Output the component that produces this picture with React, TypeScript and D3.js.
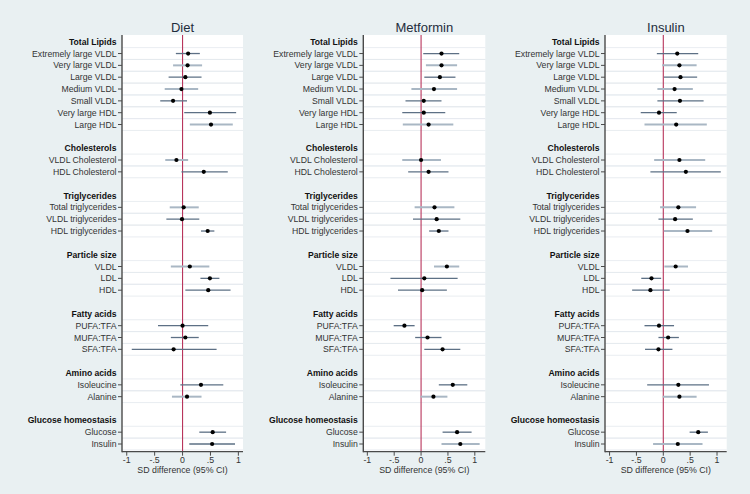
import React from "react";
import * as d3 from "d3";

const panels = ["Diet", "Metformin", "Insulin"];

// row layout: header rows (h) and item rows (i), blanks (b)
const rows: { type: "h" | "i" | "b"; label: string }[] = [
  { type: "h", label: "Total Lipids" },
  { type: "i", label: "Extremely large VLDL" },
  { type: "i", label: "Very large VLDL" },
  { type: "i", label: "Large VLDL" },
  { type: "i", label: "Medium VLDL" },
  { type: "i", label: "Small VLDL" },
  { type: "i", label: "Very large HDL" },
  { type: "i", label: "Large HDL" },
  { type: "b", label: "" },
  { type: "h", label: "Cholesterols" },
  { type: "i", label: "VLDL Cholesterol" },
  { type: "i", label: "HDL Cholesterol" },
  { type: "b", label: "" },
  { type: "h", label: "Triglycerides" },
  { type: "i", label: "Total triglycerides" },
  { type: "i", label: "VLDL triglycerides" },
  { type: "i", label: "HDL triglycerides" },
  { type: "b", label: "" },
  { type: "h", label: "Particle size" },
  { type: "i", label: "VLDL" },
  { type: "i", label: "LDL" },
  { type: "i", label: "HDL" },
  { type: "b", label: "" },
  { type: "h", label: "Fatty acids" },
  { type: "i", label: "PUFA:TFA" },
  { type: "i", label: "MUFA:TFA" },
  { type: "i", label: "SFA:TFA" },
  { type: "b", label: "" },
  { type: "h", label: "Amino acids" },
  { type: "i", label: "Isoleucine" },
  { type: "i", label: "Alanine" },
  { type: "b", label: "" },
  { type: "h", label: "Glucose homeostasis" },
  { type: "i", label: "Glucose" },
  { type: "i", label: "Insulin" },
];

// estimates per item (in order of item rows)
const dietEst = [0.10, 0.09, 0.05, -0.02, -0.17, 0.49, 0.51, -0.11, 0.38, 0.02, -0.01, 0.45, 0.13, 0.49, 0.46, 0.00, 0.05, -0.16, 0.33, 0.08, 0.54, 0.53];
const dietLo = [-0.12, -0.17, -0.25, -0.32, -0.40, 0.03, 0.13, -0.31, -0.02, -0.23, -0.29, 0.33, -0.21, 0.32, 0.05, -0.44, -0.21, -0.91, -0.04, -0.19, 0.30, 0.12];
const dietHi = [0.31, 0.35, 0.34, 0.28, 0.08, 0.96, 0.90, 0.10, 0.81, 0.29, 0.30, 0.57, 0.48, 0.66, 0.86, 0.46, 0.29, 0.61, 0.73, 0.34, 0.78, 0.94];
const dietLight = [0, 1, 0, 1, 0, 0, 1, 1, 0, 1, 0, 0, 1, 0, 0, 0, 0, 0, 0, 1, 0, 0];

const metEst = [0.38, 0.38, 0.35, 0.24, 0.05, 0.05, 0.14, 0.00, 0.14, 0.25, 0.29, 0.33, 0.48, 0.06, 0.02, -0.31, 0.12, 0.40, 0.59, 0.23, 0.67, 0.73];
const metLo = [0.04, 0.09, 0.06, -0.18, -0.29, -0.35, -0.34, -0.35, -0.24, -0.12, -0.15, 0.15, 0.24, -0.57, -0.43, -0.51, -0.11, 0.06, 0.33, -0.01, 0.40, 0.38];
const metHi = [0.71, 0.67, 0.64, 0.67, 0.38, 0.45, 0.60, 0.37, 0.51, 0.62, 0.73, 0.51, 0.71, 0.68, 0.48, -0.12, 0.38, 0.73, 0.86, 0.49, 0.94, 1.09];
const metLight = [0, 1, 0, 1, 0, 0, 1, 1, 0, 1, 0, 0, 1, 0, 0, 0, 0, 0, 0, 1, 0, 1];

const insEst = [0.26, 0.30, 0.32, 0.21, 0.31, -0.08, 0.24, 0.30, 0.42, 0.28, 0.22, 0.45, 0.23, -0.22, -0.24, -0.08, 0.09, -0.09, 0.28, 0.30, 0.65, 0.27];
const insLo = [-0.12, -0.02, 0.01, -0.11, -0.11, -0.42, -0.35, -0.17, -0.24, -0.06, -0.09, 0.01, 0.02, -0.41, -0.58, -0.35, -0.09, -0.34, -0.30, -0.01, 0.49, -0.19];
const insHi = [0.65, 0.62, 0.63, 0.55, 0.75, 0.25, 0.81, 0.78, 1.07, 0.61, 0.55, 0.91, 0.46, -0.04, 0.12, 0.20, 0.29, 0.17, 0.85, 0.62, 0.83, 0.73];
const insLight = [0, 1, 0, 1, 0, 0, 1, 1, 0, 1, 0, 1, 1, 0, 0, 0, 0, 0, 0, 1, 0, 1];

const xTicks = [-1, -0.5, 0, 0.5, 1];
const xTickLabels = ["-1", "-.5", "0", ".5", "1"];
const xTitle = "SD difference (95% CI)";

const panelData = [
  { est: dietEst, lo: dietLo, hi: dietHi, light: dietLight, domain: [-1.085, 1.083], range: [122, 243] },
  { est: metEst, lo: metLo, hi: metHi, light: metLight, domain: [-1.075, 1.195], range: [363.3, 485.3] },
  { est: insEst, lo: insLo, hi: insHi, light: insLight, domain: [-1.085, 1.18], range: [605, 726.7] },
];

const W = 750;
const H = 494;
const TOP = 35;
const BOTTOM = 451.7;
const FONT = "Liberation Sans, Arial, sans-serif";

export default function App() {
  const y = d3.scaleLinear().domain([0, rows.length - 1]).range([41.7, 444]);
  const itemRows = rows.map((r, i) => ({ ...r, idx: i })).filter((r) => r.type === "i");

  return (
    <svg width={W} height={H} style={{ position: "absolute", left: 0, top: 0 }} fontFamily={FONT}>
      <rect x={0} y={0} width={W} height={H} fill="#e9f0f2" />
      {panels.map((name, p) => {
        const pd = panelData[p];
        const x = d3.scaleLinear().domain(pd.domain).range(pd.range);
        const [x0, x1] = pd.range;
        return (
          <g key={name}>
            <rect x={x0} y={TOP} width={x1 - x0} height={BOTTOM - TOP} fill="#ffffff" />
            {/* gridlines */}
            {itemRows.map((r) => (
              <g key={"g" + r.idx}>
                <line x1={x0} x2={x1} y1={y(r.idx - 0.5)} y2={y(r.idx - 0.5)} stroke="#e3e9ed" strokeWidth={0.8} />
                <line x1={x0} x2={x1} y1={y(r.idx + 0.5)} y2={y(r.idx + 0.5)} stroke="#e3e9ed" strokeWidth={0.8} />
              </g>
            ))}
            {/* zero line */}
            <line x1={x(0)} x2={x(0)} y1={TOP} y2={BOTTOM} stroke="#b8355c" strokeWidth={1.1} />
            {/* CIs and points */}
            {itemRows.map((r, k) => {
              const light = pd.light[k] === 1;
              return (
                <g key={"c" + r.idx}>
                  <line
                    x1={x(pd.lo[k])}
                    x2={x(pd.hi[k])}
                    y1={y(r.idx)}
                    y2={y(r.idx)}
                    stroke={light ? "#a9b7c4" : "#5d7085"}
                    strokeWidth={light ? 2 : 1.3}
                  />
                  <circle cx={x(pd.est[k])} cy={y(r.idx)} r={2.1} fill="#000000" />
                </g>
              );
            })}
            {/* left axis */}
            <line x1={x0} x2={x0} y1={TOP} y2={BOTTOM + 0.5} stroke="#4a4a4a" strokeWidth={1.4} />
            {/* bottom axis */}
            <line x1={x0} x2={x1} y1={BOTTOM} y2={BOTTOM} stroke="#4a4a4a" strokeWidth={1.2} />
            {/* labels */}
            {rows.map((r, i) =>
              r.type === "b" ? null : (
                <g key={"l" + i}>
                  {r.type === "i" && (
                    <line x1={x0 - 4} x2={x0} y1={y(i)} y2={y(i)} stroke="#4a4a4a" strokeWidth={1} />
                  )}
                  <text
                    x={x0 - 5.5}
                    y={y(i)}
                    dy="0.36em"
                    textAnchor="end"
                    fontSize={r.type === "h" ? 8.6 : 8.7}
                    fontWeight={r.type === "h" ? "bold" : "normal"}
                    fill={r.type === "h" ? "#111111" : "#333333"}
                  >
                    {r.label}
                  </text>
                </g>
              )
            )}
            {/* x ticks */}
            {xTicks.map((t, j) => (
              <g key={"t" + j}>
                <line x1={x(t)} x2={x(t)} y1={BOTTOM} y2={BOTTOM + 4} stroke="#4a4a4a" strokeWidth={1} />
                <text x={x(t)} y={BOTTOM + 11.3} textAnchor="middle" fontSize={8.8} fill="#333333">
                  {xTickLabels[j]}
                </text>
              </g>
            ))}
            <text x={(x0 + x1) / 2} y={BOTTOM + 21.3} textAnchor="middle" fontSize={8.8} fill="#333333">
              {xTitle}
            </text>
            <text x={(x0 + x1) / 2} y={31.5} textAnchor="middle" fontSize={13} fill="#1e2d3c">
              {name}
            </text>
          </g>
        );
      })}
    </svg>
  );
}
